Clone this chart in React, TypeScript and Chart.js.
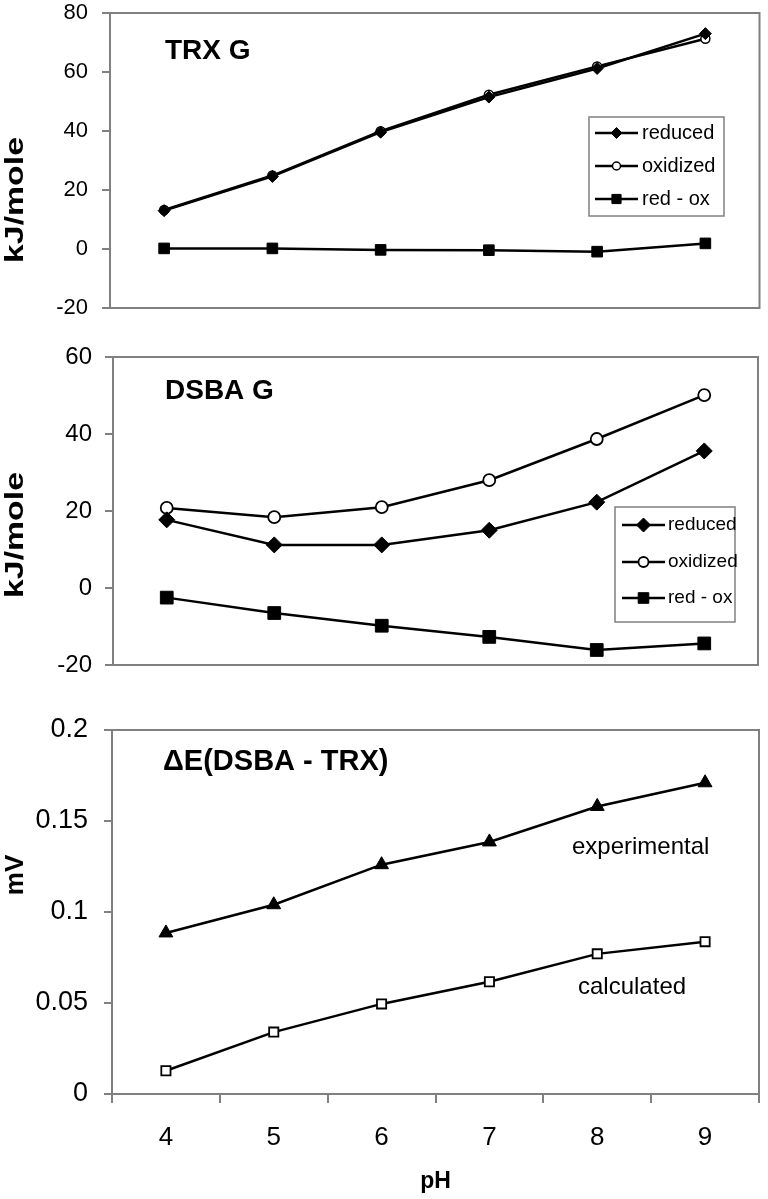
import React, { useEffect, useRef } from 'react';
import { Chart, registerables } from 'chart.js';
import { drawPoint } from 'chart.js/helpers';

Chart.register(...registerables);

const FONT = "'Liberation Sans', Arial, Helvetica, sans-serif";
const GRAY = '#808080';

// ---------- data ----------
const phLabels = ['4', '5', '6', '7', '8', '9'];

const trxReduced = [13, 24.6, 39.6, 51.5, 61.2, 73];
const trxOxidized = [13.2, 24.9, 39.9, 52.3, 61.9, 71.3];
const trxRedOx = [0.2, 0.2, -0.3, -0.4, -0.9, 1.9];

const dsbaReduced = [17.7, 11.2, 11.2, 15, 22.3, 35.6];
const dsbaOxidized = [20.8, 18.4, 21, 28, 38.7, 50.1];
const dsbaRedOx = [-2.5, -6.5, -9.8, -12.7, -16.1, -14.4];

const deltaExperimental = [0.0885, 0.104, 0.126, 0.1385, 0.158, 0.171];
const deltaCalculated = [0.0128, 0.034, 0.0495, 0.0617, 0.077, 0.0837];

const legendNames = ['reduced', 'oxidized', 'red - ox'];

// ---------- plugins ----------
const framePlugin = {
  id: 'frame',
  beforeDatasetsDraw(chart: any) {
    const { ctx, chartArea: a } = chart;
    ctx.save();
    ctx.strokeStyle = GRAY;
    ctx.lineWidth = 2;
    ctx.strokeRect(a.left, a.top, a.right - a.left, a.bottom - a.top);
    ctx.restore();
  },
};

type TextItem = { text: string; x: number; y: number; font: string; align?: CanvasTextAlign; rotate?: boolean; sx?: number };
type LegendCfg = {
  x: number; y: number; w: number; h: number;
  rows: number[]; lineX0: number; lineX1: number; textX: number; font: string; radii: number[];
};

function makeOverlay(texts: TextItem[], legend?: LegendCfg) {
  return {
    id: 'overlay',
    afterDraw(chart: any) {
      const { ctx } = chart;
      ctx.save();
      if (legend) {
        ctx.fillStyle = '#fff';
        ctx.fillRect(legend.x, legend.y, legend.w, legend.h);
        ctx.strokeStyle = GRAY;
        ctx.lineWidth = 1.5;
        ctx.strokeRect(legend.x, legend.y, legend.w, legend.h);
        chart.data.datasets.forEach((ds: any, i: number) => {
          const y = legend.rows[i];
          ctx.strokeStyle = '#000';
          ctx.lineWidth = 2.5;
          ctx.beginPath();
          ctx.moveTo(legend.lineX0, y);
          ctx.lineTo(legend.lineX1, y);
          ctx.stroke();
          ctx.fillStyle = ds.pointBackgroundColor;
          ctx.strokeStyle = ds.pointBorderColor;
          ctx.lineWidth = ds.pointBorderWidth;
          drawPoint(ctx, { pointStyle: ds.pointStyle, radius: legend.radii[i], rotation: 0, borderWidth: ds.pointBorderWidth } as any,
            (legend.lineX0 + legend.lineX1) / 2, y);
          ctx.fillStyle = '#000';
          ctx.font = legend.font;
          ctx.textAlign = 'left';
          ctx.textBaseline = 'middle';
          ctx.fillText(ds.label, legend.textX, y);
        });
      }
      texts.forEach((t) => {
        ctx.save();
        ctx.fillStyle = '#000';
        ctx.font = t.font;
        ctx.textBaseline = 'middle';
        ctx.textAlign = t.align || 'left';
        ctx.translate(t.x, t.y);
        if (t.rotate) ctx.rotate(-Math.PI / 2);
        if (t.sx) ctx.scale(t.sx, 1);
        ctx.fillText(t.text, 0, 0);
        ctx.restore();
      });
      ctx.restore();
    },
  };
}

function ds(label: string, data: number[], style: string, radius: number, filled: boolean, bw: number) {
  return {
    label,
    data,
    borderColor: '#000',
    borderWidth: 2.5,
    tension: 0,
    pointStyle: style,
    pointRadius: radius,
    pointBackgroundColor: filled ? '#000' : '#fff',
    pointBorderColor: '#000',
    pointBorderWidth: bw,
    clip: false,
  };
}

function yScale(min: number, max: number, step: number, font: any, width: number, pad: number) {
  return {
    min,
    max,
    ticks: {
      stepSize: step,
      color: '#000',
      padding: pad,
      font,
      callback: (v: any) => String(+Number(v).toFixed(3)),
    },
    grid: { drawOnChartArea: false, drawTicks: true, tickLength: 8, color: GRAY, lineWidth: 2 },
    border: { display: true, color: GRAY, width: 2 },
    afterFit: (s: any) => {
      s.width = width;
      s.paddingTop = 0;
      s.paddingBottom = 0;
    },
  };
}

function config1() {
  return {
    type: 'line',
    data: {
      labels: phLabels,
      datasets: [
        ds(legendNames[0], trxReduced, 'rectRot', 6, true, 1),
        ds(legendNames[1], trxOxidized, 'circle', 4.5, false, 1.5),
        ds(legendNames[2], trxRedOx, 'rect', 7.5, true, 1),
      ],
    },
    options: {
      responsive: false,
      animation: false,
      devicePixelRatio: 1,
      layout: { padding: { top: 13, right: 6, bottom: 32, left: 0 } },
      plugins: { legend: { display: false }, tooltip: { enabled: false } },
      scales: {
        x: { display: false, offset: true },
        y: yScale(-20, 80, 20, { family: FONT, size: 22 }, 110, 14),
      },
    },
    plugins: [
      framePlugin,
      makeOverlay(
        [
          { text: 'TRX G', x: 165, y: 51, font: `bold 28px ${FONT}` },
          { text: 'kJ/mole', x: 16, y: 200, font: `bold 26px ${FONT}`, align: 'center', rotate: true, sx: 1.3 },
        ],
        { x: 589, y: 117, w: 135, h: 99, rows: [133, 166, 199], lineX0: 595, lineX1: 638, textX: 642, font: `20px ${FONT}`, radii: [5.5, 4, 6.5] }
      ),
    ],
  };
}

function config2() {
  return {
    type: 'line',
    data: {
      labels: phLabels,
      datasets: [
        ds(legendNames[0], dsbaReduced, 'rectRot', 8, true, 1),
        ds(legendNames[1], dsbaOxidized, 'circle', 6, false, 1.8),
        ds(legendNames[2], dsbaRedOx, 'rect', 9, true, 1),
      ],
    },
    options: {
      responsive: false,
      animation: false,
      devicePixelRatio: 1,
      layout: { padding: { top: 17, right: 6, bottom: 35, left: 0 } },
      plugins: { legend: { display: false }, tooltip: { enabled: false } },
      scales: {
        x: { display: false, offset: true },
        y: yScale(-20, 60, 20, { family: FONT, size: 24 }, 113, 13),
      },
    },
    plugins: [
      framePlugin,
      makeOverlay(
        [
          { text: 'DSBA G', x: 165, y: 51, font: `bold 28px ${FONT}` },
          { text: 'kJ/mole', x: 16, y: 195, font: `bold 26px ${FONT}`, align: 'center', rotate: true, sx: 1.3 },
        ],
        { x: 615, y: 167, w: 120, h: 115, rows: [185, 222, 258], lineX0: 622, lineX1: 665, textX: 668, font: `19px ${FONT}`, radii: [7, 5, 7.5] }
      ),
    ],
  };
}

function config3() {
  return {
    type: 'line',
    data: {
      labels: phLabels,
      datasets: [
        ds('experimental', deltaExperimental, 'triangle', 8, true, 1),
        ds('calculated', deltaCalculated, 'rect', 6.5, false, 1.8),
      ],
    },
    options: {
      responsive: false,
      animation: false,
      devicePixelRatio: 1,
      layout: { padding: { top: 30, right: 7, bottom: 0, left: 0 } },
      plugins: { legend: { display: false }, tooltip: { enabled: false } },
      scales: {
        x: {
          offset: true,
          grid: { offset: true, drawOnChartArea: false, drawTicks: true, tickLength: 9, color: GRAY, lineWidth: 2 },
          border: { display: true, color: GRAY, width: 2 },
          ticks: { color: '#000', padding: 19, maxRotation: 0, font: { family: FONT, size: 26 } },
          title: { display: true, text: 'pH', color: '#000', font: { family: FONT, size: 23, weight: 'bold' }, padding: { top: 0, bottom: 4 } },
          afterFit: (s: any) => { s.height = 105; },
        },
        y: yScale(0, 0.2, 0.05, { family: FONT, size: 27 }, 112, 16),
      },
    },
    plugins: [
      framePlugin,
      makeOverlay([
        { text: 'ΔE(DSBA - TRX)', x: 163, y: 62, font: `bold 29px ${FONT}` },
        { text: 'mV', x: 16, y: 175, font: `bold 26px ${FONT}`, align: 'center', rotate: true },
        { text: 'experimental', x: 572, y: 147, font: `24px ${FONT}` },
        { text: 'calculated', x: 578, y: 287, font: `24px ${FONT}` },
      ]),
    ],
  };
}

function Panel({ top, height, make }: { top: number; height: number; make: () => any }) {
  const ref = useRef<HTMLCanvasElement>(null);
  useEffect(() => {
    const chart = new Chart(ref.current as HTMLCanvasElement, make());
    return () => chart.destroy();
  }, []);
  return (
    <canvas
      ref={ref}
      width={768}
      height={height}
      style={{ position: 'absolute', left: 0, top, width: 768, height, display: 'block' }}
    />
  );
}

export default function App() {
  return (
    <div style={{ position: 'absolute', left: 0, top: 0, width: 768, height: 1199, background: '#fff' }}>
      <Panel top={0} height={340} make={config1} />
      <Panel top={340} height={360} make={config2} />
      <Panel top={700} height={499} make={config3} />
    </div>
  );
}
